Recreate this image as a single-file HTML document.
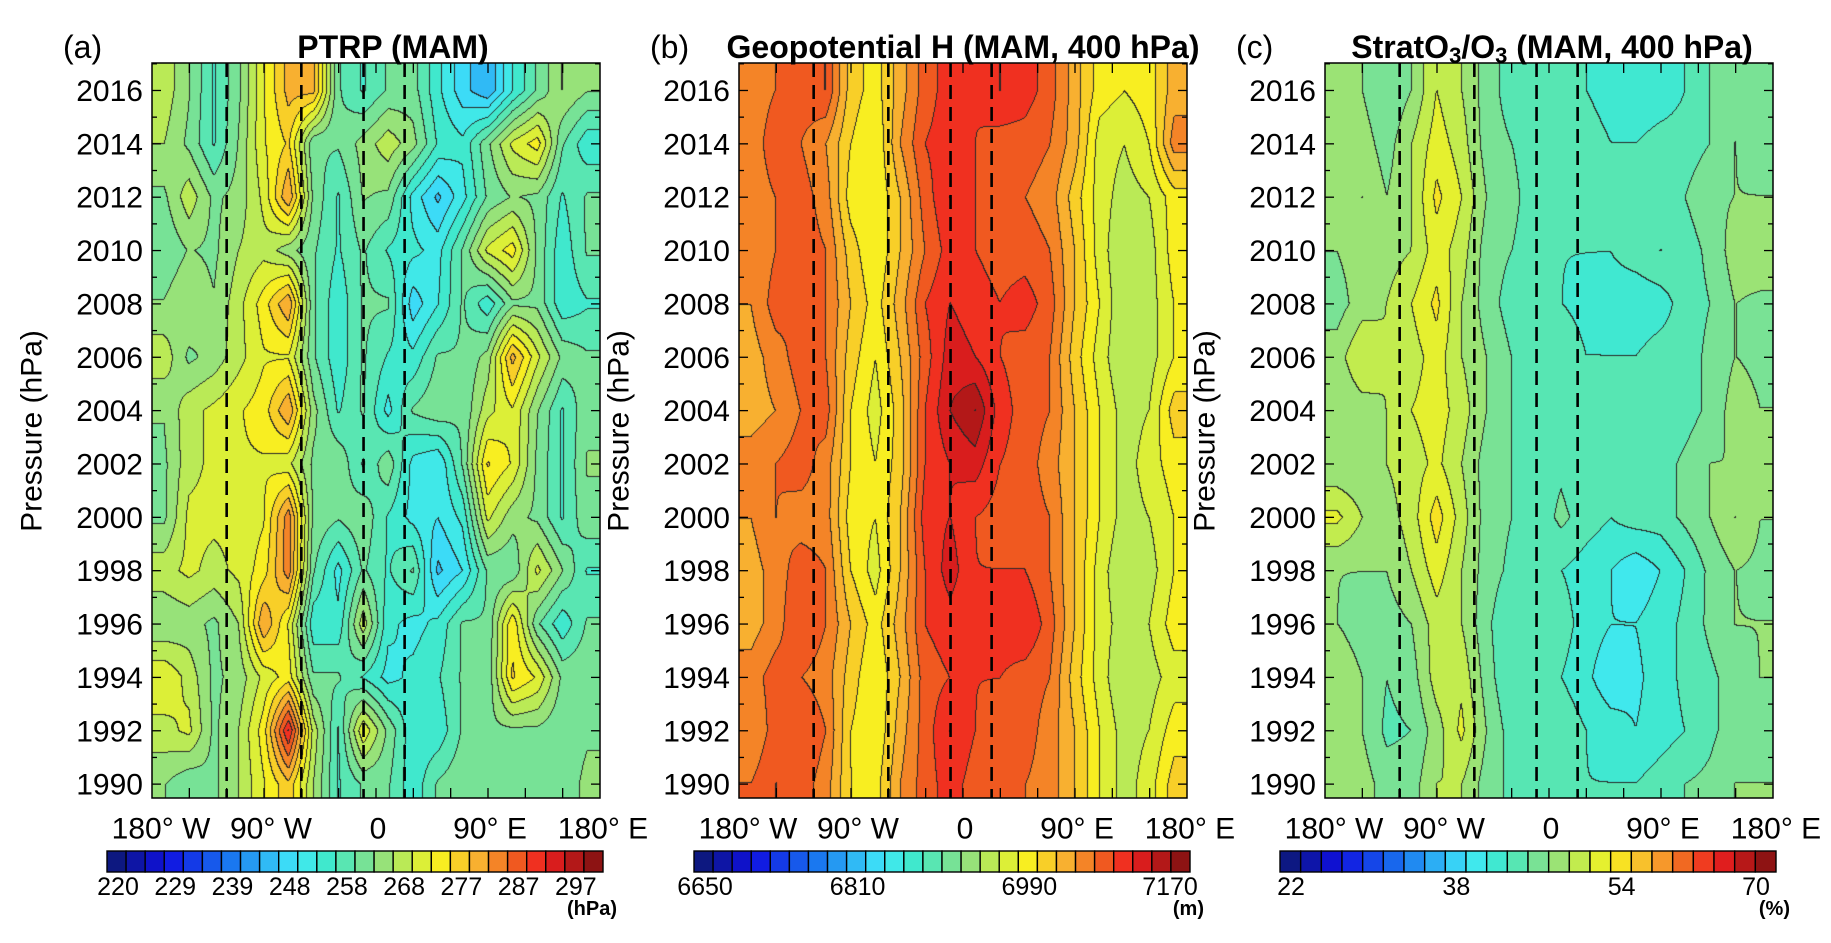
<!DOCTYPE html>
<html><head><meta charset="utf-8"><style>
html,body{margin:0;padding:0;background:#fff;width:1831px;height:943px;overflow:hidden;font-family:"Liberation Sans",Arial,sans-serif}
canvas{position:absolute}
svg{position:absolute;left:0;top:0}
</style></head><body>
<canvas id="cva" width="448" height="735" style="left:152px;top:63px"></canvas>
<canvas id="cvb" width="448" height="735" style="left:739px;top:63px"></canvas>
<canvas id="cvc" width="448" height="735" style="left:1325px;top:63px"></canvas>
<svg id="ov" width="1831" height="943"></svg>
<script>
const lonCenters=[-170,-150,-130,-110,-90,-70,-50,-30,-10,10,30,50,70,90,110,130,150,170];
const years=[2016,2014,2012,2010,2008,2006,2004,2002,2000,1998,1996,1994,1992,1990];
const ptrp=[
[270,265,258,264,274,282,282,262,258,262,263,256,250,246,255,262,268,265],
[268,264,258,265,274,278,262,262,266,270,266,258,256,264,272,276,262,256],
[264,270,264,266,272,284,264,258,265,264,254,248,254,262,265,264,258,262],
[262,265,264,268,270,266,262,258,262,258,256,254,262,272,276,264,256,262],
[265,268,265,270,276,284,262,256,262,262,250,255,262,256,264,264,256,258],
[270,264,266,270,274,274,262,256,262,258,256,262,262,266,282,272,264,262],
[265,270,272,274,276,284,266,258,262,254,262,264,262,270,274,265,258,264],
[264,270,272,274,274,272,264,264,258,264,254,252,262,278,274,264,258,265],
[264,272,272,272,274,286,264,262,264,258,254,252,256,272,266,264,258,264],
[270,272,270,272,276,286,262,254,262,258,262,248,252,262,262,272,265,258],
[265,266,264,268,284,274,256,256,270,256,254,256,262,262,277,262,256,262],
[274,270,264,266,272,276,262,262,258,254,256,258,262,262,278,274,264,264],
[270,272,264,268,276,294,270,258,274,264,256,256,262,264,264,264,262,264],
[265,262,264,268,274,280,268,258,262,262,256,262,264,262,264,262,262,266]];
const geoH=[
[7060,7070,7080,7090,7020,7000,7040,7080,7100,7090,7110,7100,7080,7040,7000,6990,7000,7040],
[7060,7080,7070,7050,7010,6990,7050,7090,7100,7090,7080,7080,7070,7040,6980,6970,6990,7060],
[7060,7070,7080,7060,7000,6990,7030,7080,7110,7090,7070,7070,7060,7020,6980,6960,6970,7000],
[7050,7070,7080,7070,7020,6990,7030,7070,7100,7090,7080,7080,7070,7030,6980,6950,6960,7000],
[7050,7080,7070,7070,7030,7000,7040,7090,7110,7100,7090,7100,7080,7030,6990,6950,6960,6990],
[7040,7060,7080,7070,7020,6990,7030,7080,7120,7110,7090,7080,7070,7020,6980,6950,6960,6990],
[7040,7050,7070,7080,7010,6980,7020,7090,7130,7150,7100,7080,7070,7030,6990,6960,6970,7020],
[7060,7070,7080,7060,7010,6990,7020,7090,7110,7120,7090,7080,7060,7030,6990,6960,6980,7000],
[7050,7070,7060,7060,7000,6990,7030,7100,7110,7090,7080,7080,7070,7030,6990,6960,6970,6990],
[7040,7060,7080,7070,7010,6980,7030,7090,7120,7090,7090,7090,7070,7030,6980,6950,6960,6990],
[7040,7060,7090,7070,7030,7000,7040,7090,7100,7090,7100,7110,7080,7030,6980,6960,6970,7000],
[7060,7080,7070,7060,7020,6990,7030,7080,7090,7090,7090,7080,7070,7020,6980,6950,6960,6980],
[7050,7080,7090,7070,7010,6990,7040,7080,7110,7090,7080,7080,7060,7030,6990,6960,6970,7000],
[7070,7090,7080,7060,7010,7000,7050,7080,7100,7080,7070,7070,7060,7030,6990,6960,6980,7020]];
const o3ratio=[
[48,48,46,48,52,50,47,45,44.5,45,44,43,42,42.5,44,46,47.5,46.5],
[48,49,47,50,53,51,47,46,45,44.5,45,44,44,45,45,46,48,47],
[49,50,48,50,54.5,52,48,46.5,45,45,44,44,45,44.5,46,47.5,48,48],
[48,49,49,50,53,51,47,46,45,44,44,44,45,46,45,46.5,49,49.5],
[47,49,50,52,54.5,50,47,45,45,44,43.5,43,42.5,43,45,46,48,47.5],
[49,52,50,51,53,50,48,46,45,45,44,44,44,45,45,46.5,48,47.5],
[48,49,50,52,53,51,48,46,45,45,44,45,45,44,45,46.5,49,48],
[48,48,50,51,52.5,50,47,46,45,45.5,44,44,44.5,45,46.5,48,48,48.5],
[52.5,50,49,51,55,51,47,46,44.5,46.5,45,44,45,45,46.5,48,50,48],
[48,48,48,50,53,50,47,45.5,44,44,43,42,40.5,42,44,46.5,48,47.5],
[48,47,47,48,51,50,46.5,44,44,45,43,42,42,43,44.5,46.5,48,48],
[49.5,48,46,47,51,51.5,47,44,44,44,42.5,40.5,41.5,43,44.5,45.5,47,48],
[48,48,45.5,46,49,52.5,48,45,44,45.5,44,43,42,43,44,45.5,47,46.5],
[48,49,47,47,50,50,47,45.5,45,45,44,44,44,45,46,46.5,48,48]];
const dashedLons=[-120,-60,-10,23];
const yTickLabels=[2016,2014,2012,2010,2008,2006,2004,2002,2000,1998,1996,1994,1992,1990];
const xTickLabels=["180° W","90° W","0","90° E","180° E"];
const xTickLons=[-180,-90,0,90,180];
const cbarA=["220","229","239","248","258","268","277","287","297"];
const cbarAIdx=[0,3,6,9,12,15,18,21,24];
const cbarB=["6650","6810","6990","7170"];
const cbarBIdx=[0,8,17,26];
const cbarC=["22","38","54","70"];
const cbarCIdx=[0,8,16,24];

const W=448,H=735,Y0=63,Y1=798,YTOP=2017.03,YBOT=1989.48;
const anchors=[[0,[12,26,110]],[0.12,[16,16,224]],[0.25,[26,120,240]],[0.38,[64,232,248]],[0.45,[64,232,200]],[0.55,[144,224,128]],[0.62,[208,239,64]],[0.67,[248,240,32]],[0.75,[248,176,48]],[0.82,[240,96,32]],[0.88,[240,32,32]],[1,[122,16,16]]];
function cmap(t){t=Math.max(0,Math.min(1,t));for(let i=1;i<anchors.length;i++){if(t<=anchors[i][0]){const a=anchors[i-1],b=anchors[i];const f=(t-a[0])/(b[0]-a[0]);return a[1].map((v,k)=>Math.round(v+(b[1][k]-v)*f));}}return anchors[anchors.length-1][1];}
function xOf(lon,left){return left+(lon+180)/360*W;}
function yOf(yr){return Y0+(YTOP-yr)/(YTOP-YBOT)*H;}
function drawField(id,data,vmin,step,nlev){
  const cv=document.getElementById(id),ctx=cv.getContext('2d');const img=ctx.createImageData(W,H);
  const lev=new Int16Array(W*H);const nr=years.length,nc=lonCenters.length;
  for(let py=0;py<H;py++){const yr=YTOP-(py+0.5)*(YTOP-YBOT)/H;let r=(years[0]-yr)/(years[0]-years[1]);r=Math.max(0,Math.min(nr-1,r));const r0=Math.min(nr-2,Math.floor(r)),fr=r-r0;
    for(let px=0;px<W;px++){const lon=-180+(px+0.5)*360/W;let c=(lon-lonCenters[0])/(lonCenters[1]-lonCenters[0]);c=Math.max(0,Math.min(nc-1,c));const c0=Math.min(nc-2,Math.floor(c)),fc=c-c0;
      const v=data[r0][c0]*(1-fr)*(1-fc)+data[r0][c0+1]*(1-fr)*fc+data[r0+1][c0]*fr*(1-fc)+data[r0+1][c0+1]*fr*fc;
      lev[py*W+px]=Math.max(0,Math.min(nlev-1,Math.floor((v-vmin)/step+0.013)));}}
  for(let py=0;py<H;py++)for(let px=0;px<W;px++){const i=py*W+px,l=lev[i];let col=cmap((l+0.5)/nlev);
    if((px<W-1&&lev[i+1]!==l)||(py<H-1&&lev[i+W]!==l))col=[40,40,40];
    img.data[i*4]=col[0];img.data[i*4+1]=col[1];img.data[i*4+2]=col[2];img.data[i*4+3]=255;}
  ctx.putImageData(img,0,0);
}
drawField('cva',ptrp,220,3.2,26);
drawField('cvb',geoH,6650,20,26);
drawField('cvc',o3ratio,22,2,24);

const NS="http://www.w3.org/2000/svg",ov=document.getElementById('ov');
function el(tag,attrs,parent){const e=document.createElementNS(NS,tag);for(const k in attrs)e.setAttribute(k,attrs[k]);(parent||ov).appendChild(e);return e;}
function txt(s,x,y,size,anchor,weight,parent){const t=el('text',{x:x,y:y,'font-size':size,'text-anchor':anchor||'middle','dominant-baseline':'central','font-family':'Liberation Sans, Arial, sans-serif','font-weight':weight||'normal',fill:'#000'},parent);t.textContent=s;return t;}

const panels=[
 {left:152,letter:"(a)",title:"PTRP (MAM)",nlev:26,labels:cbarA,idx:cbarAIdx,unit:"(hPa)",name:"a"},
 {left:739,letter:"(b)",title:"Geopotential H (MAM, 400 hPa)",nlev:26,labels:cbarB,idx:cbarBIdx,unit:"(m)",name:"b"},
 {left:1325,letter:"(c)",title:null,nlev:24,labels:cbarC,idx:cbarCIdx,unit:"(%)",name:"c"}];
panels.forEach((p,pi)=>{
  const g=el('g',{});
  
  
  const L=p.left,R=L+W;
  dashedLons.forEach(lo=>{const d=el('line',{x1:xOf(lo,L),x2:xOf(lo,L),y1:Y0,y2:Y1,stroke:'#000','stroke-width':2.6,'stroke-dasharray':'14 8'},g);
    
    });
  for(let yr=1990;yr<=2017;yr++){const y=yOf(yr);const len=(yr%2===0)?9:5;
    el('line',{x1:L,x2:L+len,y1:y,y2:y,stroke:'#000','stroke-width':1.3},g);el('line',{x1:R,x2:R-len,y1:y,y2:y,stroke:'#000','stroke-width':1.3},g);}
  for(let lo=-150;lo<180;lo+=30){const x=xOf(lo,L);el('line',{x1:x,x2:x,y1:Y0,y2:Y0+10,stroke:'#000','stroke-width':1.3},g);el('line',{x1:x,x2:x,y1:Y1,y2:Y1-10,stroke:'#000','stroke-width':1.3},g);}
  const fr=el('rect',{x:L,y:Y0,width:W,height:H,fill:'none',stroke:'#000','stroke-width':1.5},g);
  
  
  yTickLabels.forEach(yr=>{const t=txt(String(yr),L-9,yOf(yr)+1,30,'end','normal',g);
    
    });
  xTickLabels.forEach((s,i)=>{const t=txt(s,xOf(xTickLons[i],L)+(i===0?9:(i===1?7:(i===4?3:2))),829,30,'middle','normal',g);
    
    });
  const yt=txt("Pressure (hPa)",0,0,30,'middle','normal',g);yt.setAttribute('transform','translate('+(L-120)+',431) rotate(-90)');
  
  
  const lt=txt(p.letter,L-89,47,32,'start','normal',g);
  
  
  let tt;
  if(p.title){tt=txt(p.title,L+W/2+(pi===0?17:0),47,32,'middle','bold',g);}
  else{tt=el('text',{x:L+W/2+3,y:47,'font-size':32,'text-anchor':'middle','dominant-baseline':'central','font-family':'Liberation Sans, Arial, sans-serif','font-weight':'bold'},g);
    tt.innerHTML='StratO<tspan font-size="22" dy="8">3</tspan><tspan dy="-8">/O</tspan><tspan font-size="22" dy="8">3</tspan><tspan dy="-8"> (MAM, 400 hPa)</tspan>';}
  
  
  const cb=el('g',{},g);
  
  
  const cx0=L-45,cw=496,seg=cw/p.nlev;
  for(let i=0;i<p.nlev;i++){const c=cmap((i+0.5)/p.nlev);const r=el('rect',{x:cx0+i*seg,y:851,width:seg,height:21,fill:'rgb('+c.join(',')+')',stroke:'#000','stroke-width':1.4},cb);
    
    }
  p.labels.forEach((s,i)=>{let x=cx0+11+p.idx[i]*seg;if(i===p.labels.length-1&&p.labels.length===4)x=cx0+cw-20;
    const t=txt(s,x,887,25,'middle','normal',cb);
    
    });
  const u=txt(p.unit,cx0+cw+14,909,20,'end','bold',cb);
  
  
});
</script>
</body></html>
